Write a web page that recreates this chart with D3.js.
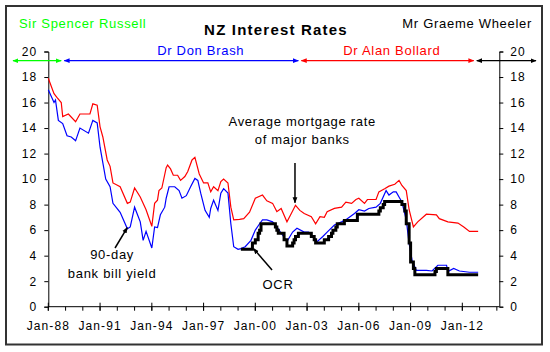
<!DOCTYPE html>
<html lang="en">
<head>
<meta charset="UTF-8" />
<script src="https://cdn.jsdelivr.net/npm/d3@7"></script>
<style>
  body { margin: 0; background: #fff; }
  svg text { font-family: "Liberation Sans", Arial, sans-serif; }
</style>
</head>
<body>
<div id="chart"></div>
<script>
// Average mortgage rate of major banks (%)
var mortgage = [
  ["1988-01",17.9],["1988-05",16.7],["1988-07",16.4],["1988-10",16.0],["1988-11",14.9],["1989-03",15.1],
  ["1989-08",14.5],["1989-11",15.1],["1990-06",15.1],["1990-08",15.9],["1990-11",15.8],["1991-01",14.1],
  ["1991-03",13.3],["1991-06",11.5],["1991-08",11.0],["1991-10",9.7],["1992-03",9.4],["1992-08",8.1],
  ["1992-10",8.2],["1993-01",9.3],["1993-05",8.6],["1993-09",7.6],["1994-01",6.3],["1994-03",8.1],
  ["1994-05",8.35],["1994-06",9.1],["1994-08",9.3],["1994-11",10.9],["1994-12",11.1],["1995-02",10.8],
  ["1995-04",10.3],["1995-07",10.3],["1995-09",9.9],["1995-12",10.2],["1996-02",10.6],["1996-05",11.5],
  ["1996-07",11.7],["1996-10",10.4],["1997-01",9.7],["1997-04",9.7],["1997-06",9.0],["1997-08",9.4],
  ["1997-11",9.1],["1998-01",9.8],["1998-03",10.0],["1998-06",9.7],["1998-08",7.8],["1998-10",6.8],
  ["1999-02",6.85],["1999-05",6.9],["1999-09",7.4],["2000-01",8.5],["2000-06",8.75],["2000-09",8.3],
  ["2001-01",8.1],["2001-04",7.45],["2001-07",7.7],["2001-11",6.65],["2002-02",7.3],["2002-05",7.95],
  ["2002-08",7.55],["2002-11",7.3],["2003-04",7.05],["2003-07",6.5],["2003-10",7.05],["2004-01",7.0],
  ["2004-03",7.45],["2004-08",7.7],["2005-01",7.8],["2005-04",8.2],["2005-08",8.1],["2005-11",8.4],
  ["2006-01",8.5],["2006-05",8.1],["2006-07",8.4],["2007-01",8.4],["2007-03",9.0],["2007-07",9.25],
  ["2007-10",9.45],["2008-02",9.6],["2008-05",9.9],["2008-07",9.5],["2008-10",9.1],["2008-12",7.6],
  ["2009-03",6.25],["2009-06",6.65],["2009-12",7.25],["2010-07",7.2],["2010-09",6.9],["2011-03",6.65],
  ["2011-10",6.55],["2012-02",6.25],["2012-06",5.9],["2012-12",5.9]
];

// 90-day bank bill yield (%)
var bankBill = [
  ["1988-01",17.0],["1988-05",16.0],["1988-06",16.2],["1988-08",14.6],["1988-11",14.35],["1989-02",13.4],
  ["1989-05",13.3],["1989-08",13.0],["1989-11",14.0],["1990-05",13.6],["1990-08",14.6],["1990-11",14.4],
  ["1991-01",12.5],["1991-05",10.0],["1991-08",9.4],["1991-10",8.1],["1992-03",7.4],["1992-08",6.1],
  ["1992-10",6.25],["1993-01",7.8],["1993-05",6.65],["1993-07",5.2],["1993-09",5.9],["1994-01",4.6],
  ["1994-03",6.25],["1994-05",6.2],["1994-07",7.2],["1994-10",7.8],["1994-11",8.5],["1995-01",9.4],
  ["1995-05",9.4],["1995-08",9.1],["1995-10",8.5],["1996-01",8.7],["1996-04",9.4],["1996-07",10.05],
  ["1996-09",9.9],["1996-11",8.9],["1997-02",7.55],["1997-05",7.0],["1997-06",7.7],["1997-08",8.35],
  ["1997-11",7.55],["1998-01",8.9],["1998-03",9.25],["1998-06",8.9],["1998-08",6.5],["1998-10",4.7],
  ["1999-01",4.5],["1999-03",4.55],["1999-06",4.7],["1999-10",5.2],["2000-01",6.0],["2000-04",6.5],
  ["2000-06",6.8],["2000-09",6.8],["2001-01",6.65],["2001-04",6.25],["2001-08",5.6],["2001-11",5.1],
  ["2002-03",5.85],["2002-06",6.15],["2002-11",5.85],["2003-02",5.85],["2003-06",5.35],["2003-08",5.1],
  ["2003-12",5.5],["2004-03",5.85],["2004-08",6.4],["2005-01",6.65],["2005-05",6.9],["2005-10",7.3],
  ["2006-01",7.6],["2006-05",7.5],["2006-08",7.7],["2007-01",7.8],["2007-04",8.1],["2007-08",9.1],
  ["2007-10",8.75],["2008-01",9.0],["2008-03",9.0],["2008-05",8.6],["2008-07",8.2],["2008-10",6.8],
  ["2008-12",4.95],["2009-02",3.65],["2009-05",2.85],["2009-12",2.85],["2010-04",2.8],["2010-08",3.25],
  ["2011-02",3.25],["2011-03",2.75],["2011-07",3.0],["2011-11",2.8],["2012-06",2.7],["2012-12",2.7]
];

// Official Cash Rate (%), value from that month on
var ocr = [
  ["1999-03",4.5],["1999-11",5.0],["2000-01",5.25],["2000-03",5.75],["2000-04",6.0],["2000-05",6.5],
  ["2001-03",6.25],["2001-04",6.0],["2001-05",5.75],["2001-09",5.25],["2001-11",4.75],["2002-03",5.0],
  ["2002-04",5.25],["2002-05",5.5],["2002-07",5.75],["2003-04",5.5],["2003-06",5.25],["2003-07",5.0],
  ["2004-01",5.25],["2004-04",5.5],["2004-06",5.75],["2004-07",6.0],["2004-09",6.25],["2004-10",6.5],
  ["2005-03",6.75],["2005-12",7.25],["2007-03",7.5],["2007-04",7.75],["2007-06",8.0],["2007-07",8.25],
  ["2008-07",8.0],["2008-09",7.5],["2008-10",6.5],["2008-12",5.0],["2009-01",3.5],["2009-03",3.0],
  ["2009-04",2.5],["2010-06",2.75],["2010-07",3.0],["2011-03",2.5],["2012-12",2.5]
];

// Reserve Bank governors
var governors = [
  { name: "Sir Spencer Russell", end: "1988-11", color: "#00ff00" },
  { name: "Dr Don Brash", start: "1988-11", end: "2002-08", label: "1996-11", color: "#0000ff" },
  { name: "Dr Alan Bollard", start: "2002-08", end: "2012-10", label: "2007-12", color: "#ff0000" },
  { name: "Mr Graeme Wheeler", start: "2012-10", color: "#000000" }
];

var yTicks = d3.range(0, 21, 2);

var width = 550, height = 352;
var parse = d3.timeParse("%Y-%m");
function rows(a) { return a.map(function (d) { return { date: parse(d[0]), value: d[1] }; }); }

var svg = d3.select("#chart").append("svg")
  .attr("width", width).attr("height", height);

// outer frame
svg.append("rect")
  .attr("x", 6).attr("y", 6).attr("width", 536).attr("height", 338.5)
  .attr("fill", "none").attr("stroke", "#333").attr("stroke-width", 2);

var x = d3.scaleTime()
  .domain([new Date(1988, 0, 1), new Date(2014, 1, 22)])
  .range([48.3, 499.3]);
var y = d3.scaleLinear().domain([0, 20]).range([306.7, 51.5]);

var tickFont = { size: "12px", spacing: "1.1px" };

// y axes
var left = svg.append("g").attr("transform", "translate(" + x.range()[0] + ",0)")
  .call(d3.axisLeft(y).tickValues(yTicks).tickSize(4).tickPadding(7));
var right = svg.append("g").attr("transform", "translate(" + x.range()[1] + ",0)")
  .call(d3.axisRight(y).tickValues(yTicks).tickSize(4).tickPadding(7));
[left, right].forEach(function (g) {
  g.select(".domain").attr("stroke", "#000");
  g.selectAll("text").attr("font-size", tickFont.size).style("letter-spacing", tickFont.spacing)
    .attr("fill", "#000").attr("font-family", null);
});

// x axis: minor yearly ticks outside, major 3-year ticks crossing
var xg = svg.append("g").attr("transform", "translate(0," + y(0) + ")");
var years = d3.timeYear.range(new Date(1988, 0, 1), new Date(2014, 0, 2));
xg.append("line").attr("x1", x.range()[0]).attr("x2", x.range()[1])
  .attr("stroke", "#000");
xg.selectAll(".minor").data(years).enter().append("line")
  .attr("x1", function (d) { return x(d); }).attr("x2", function (d) { return x(d); })
  .attr("y1", 0).attr("y2", 4).attr("stroke", "#000");
var majors = years.filter(function (d) { return (d.getFullYear() - 1988) % 3 === 0; });
xg.selectAll(".major").data(majors).enter().append("line")
  .attr("x1", function (d) { return x(d); }).attr("x2", function (d) { return x(d); })
  .attr("y1", -4).attr("y2", 4).attr("stroke", "#000");
var fmt = d3.timeFormat("%b-%y");
xg.selectAll(".lbl").data(majors).enter().append("text")
  .attr("x", function (d) { return x(d); }).attr("y", 23.3)
  .attr("text-anchor", "middle").attr("font-size", tickFont.size)
  .style("letter-spacing", tickFont.spacing)
  .text(function (d) { return fmt(d); });

// lines
var line = d3.line().x(function (d) { return x(d.date); }).y(function (d) { return y(d.value); });
svg.append("path").datum(rows(mortgage)).attr("d", line)
  .attr("fill", "none").attr("stroke", "#ff0000").attr("stroke-width", 1.2);
svg.append("path").datum(rows(bankBill)).attr("d", line)
  .attr("fill", "none").attr("stroke", "#0000ff").attr("stroke-width", 1.2);
svg.append("path").datum(rows(ocr)).attr("d", line.curve(d3.curveStepAfter))
  .attr("fill", "none").attr("stroke", "#000").attr("stroke-width", 3);

// arrow markers
var defs = svg.append("defs");
function marker(id, color) {
  defs.append("marker").attr("id", id)
    .attr("viewBox", "0 0 10 10").attr("refX", 9).attr("refY", 5)
    .attr("markerWidth", 6).attr("markerHeight", 6)
    .attr("markerUnits", "userSpaceOnUse")
    .attr("orient", "auto-start-reverse")
    .append("path").attr("d", "M0,1L10,5L0,9Z").attr("fill", color);
}
governors.forEach(function (g, i) { marker("m" + i, g.color); });
marker("mk", "#000");

// governors' terms across the top
var termY = 60.7;
governors.forEach(function (g, i) {
  var x1 = g.start ? x(parse(g.start)) + 1.5 : 13;
  var x2 = g.end ? x(parse(g.end)) - 1.5 : 536;
  svg.append("line").attr("x1", x1).attr("x2", x2).attr("y1", termY).attr("y2", termY)
    .attr("stroke", g.color).attr("stroke-width", 1.3)
    .attr("marker-start", "url(#m" + i + ")").attr("marker-end", "url(#m" + i + ")");
});
svg.append("text").attr("x", 19).attr("y", 28).attr("font-size", "13px")
  .style("letter-spacing", "0.7px").attr("fill", governors[0].color).text(governors[0].name);
svg.append("text").attr("x", 532).attr("y", 28).attr("font-size", "13px").attr("text-anchor", "end")
  .style("letter-spacing", "0.7px").attr("fill", governors[3].color).text(governors[3].name);
governors.slice(1, 3).forEach(function (g) {
  svg.append("text").attr("x", x(parse(g.label))).attr("y", 55)
    .attr("text-anchor", "middle").attr("font-size", "13px").style("letter-spacing", "0.7px")
    .attr("fill", g.color).text(g.name);
});

// title
svg.append("text").attr("x", 276).attr("y", 35).attr("text-anchor", "middle")
  .attr("font-size", "15px").attr("font-weight", "bold").style("letter-spacing", "1.2px")
  .text("NZ Interest Rates");

// annotations
function yr(v) { var yy = Math.floor(v), m = (v - yy) * 12; return new Date(yy, 0, 1 + m * 30.44); }
function note(lines, tx, ty, from, to) {
  lines.forEach(function (t, i) {
    svg.append("text").attr("x", x(yr(tx))).attr("y", y(ty[i])).attr("dy", "0.35em")
      .attr("text-anchor", "middle").attr("font-size", "13px").style("letter-spacing", "0.7px")
      .text(t);
  });
  svg.append("line")
    .attr("x1", x(yr(from[0]))).attr("y1", y(from[1]))
    .attr("x2", x(yr(to[0]))).attr("y2", y(to[1]))
    .attr("stroke", "#000").attr("stroke-width", 1.5).attr("marker-end", "url(#mk)");
}
note(["90-day", "bank bill yield"], 1991.7, [4.1, 2.6], [1991.87, 4.6], [1992.58, 6.2]);
note(["Average mortgage rate", "of major banks"], 2002.72, [14.5, 13.07], [2002.3, 11.26], [2002.3, 8.15]);
note(["OCR"], 2001.32, [1.78], [2000.97, 2.88], [1999.9, 4.55]);
</script>
</body>
</html>
